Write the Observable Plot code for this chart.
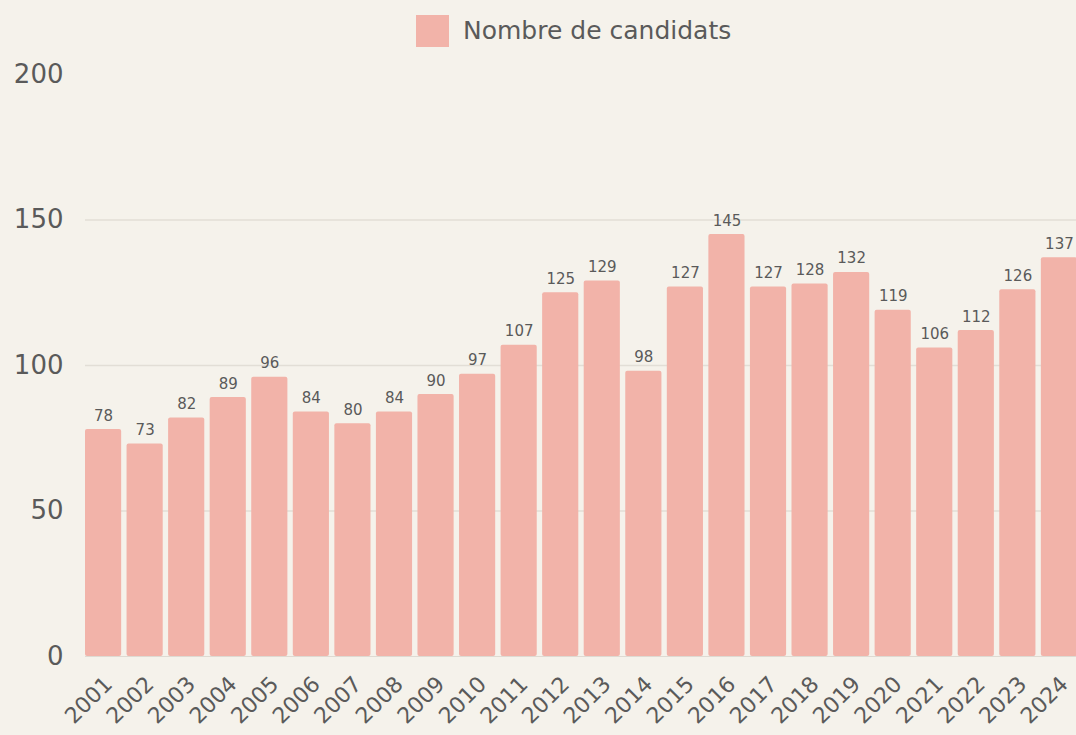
<!DOCTYPE html>
<html>
<head>
<meta charset="utf-8">
<script src="https://cdn.jsdelivr.net/npm/d3@7"></script>
<script src="https://cdn.jsdelivr.net/npm/@observablehq/plot@0.6"></script>
<style>
  html, body { margin: 0; padding: 0; background: #f5f2eb; overflow: hidden; }
  body { width: 1076px; height: 735px; font-family: "DejaVu Sans", sans-serif; }
  #legend { height: 60px; position: relative; }
  #legend .sw { position: absolute; left: 416px; top: 15px; width: 33px; height: 32px; background: #f2b3a9; }
  #legend .lb { position: absolute; left: 463px; top: 15px; font-size: 25px; color: #5a5a5a; line-height: 32px; white-space: nowrap; }
</style>
</head>
<body>
<div id="legend"><div class="sw"></div><div class="lb">Nombre de candidats</div></div>
<div id="chart"></div>
<script>
const years = ["2001","2002","2003","2004","2005","2006","2007","2008","2009","2010","2011","2012","2013","2014","2015","2016","2017","2018","2019","2020","2021","2022","2023","2024"];
const candidats = [78,73,82,89,96,84,80,84,90,97,107,125,129,98,127,145,127,128,132,119,106,112,126,137];
const yTicks = [0,50,100,150,200];
const gridValues = [50,100,150];

const data = years.map((y, i) => ({year: y, value: candidats[i]}));

const chart = Plot.plot({
  width: 1076,
  height: 675,
  marginLeft: 85,
  marginRight: 0,
  marginTop: 14,
  marginBottom: 79,
  style: {background: "#f5f2eb", color: "#5a5a5a", fontFamily: "DejaVu Sans, sans-serif", overflow: "hidden"},
  x: {domain: years, range: [85, 1077], paddingInner: 0.13, paddingOuter: 0, align: 0, round: false, label: null},
  y: {domain: [0, 200], label: null},
  marks: [
    Plot.ruleY(gridValues, {stroke: "#e2ded6", strokeWidth: 1.5}),
    Plot.ruleY([0], {stroke: "#dedad2", strokeWidth: 1}),
    Plot.barY(data, {x: "year", y: "value", fill: "#f2b3a9", rx: 2}),
    Plot.text(data, {x: "year", y: "value", text: d => String(d.value), lineAnchor: "bottom", dy: -9, fontSize: 15, fill: "#5a5a5a"}),
    Plot.axisY({ticks: yTicks, tickSize: 0, tickPadding: 22, fontSize: 26, fill: "#5a5a5a", label: null}),
    Plot.axisX({tickSize: 0, tickRotate: -45, fontSize: 22, tickPadding: 24, dx: 5, fill: "#5a5a5a", label: null})
  ]
});
document.getElementById("chart").appendChild(chart);
</script>
</body>
</html>
